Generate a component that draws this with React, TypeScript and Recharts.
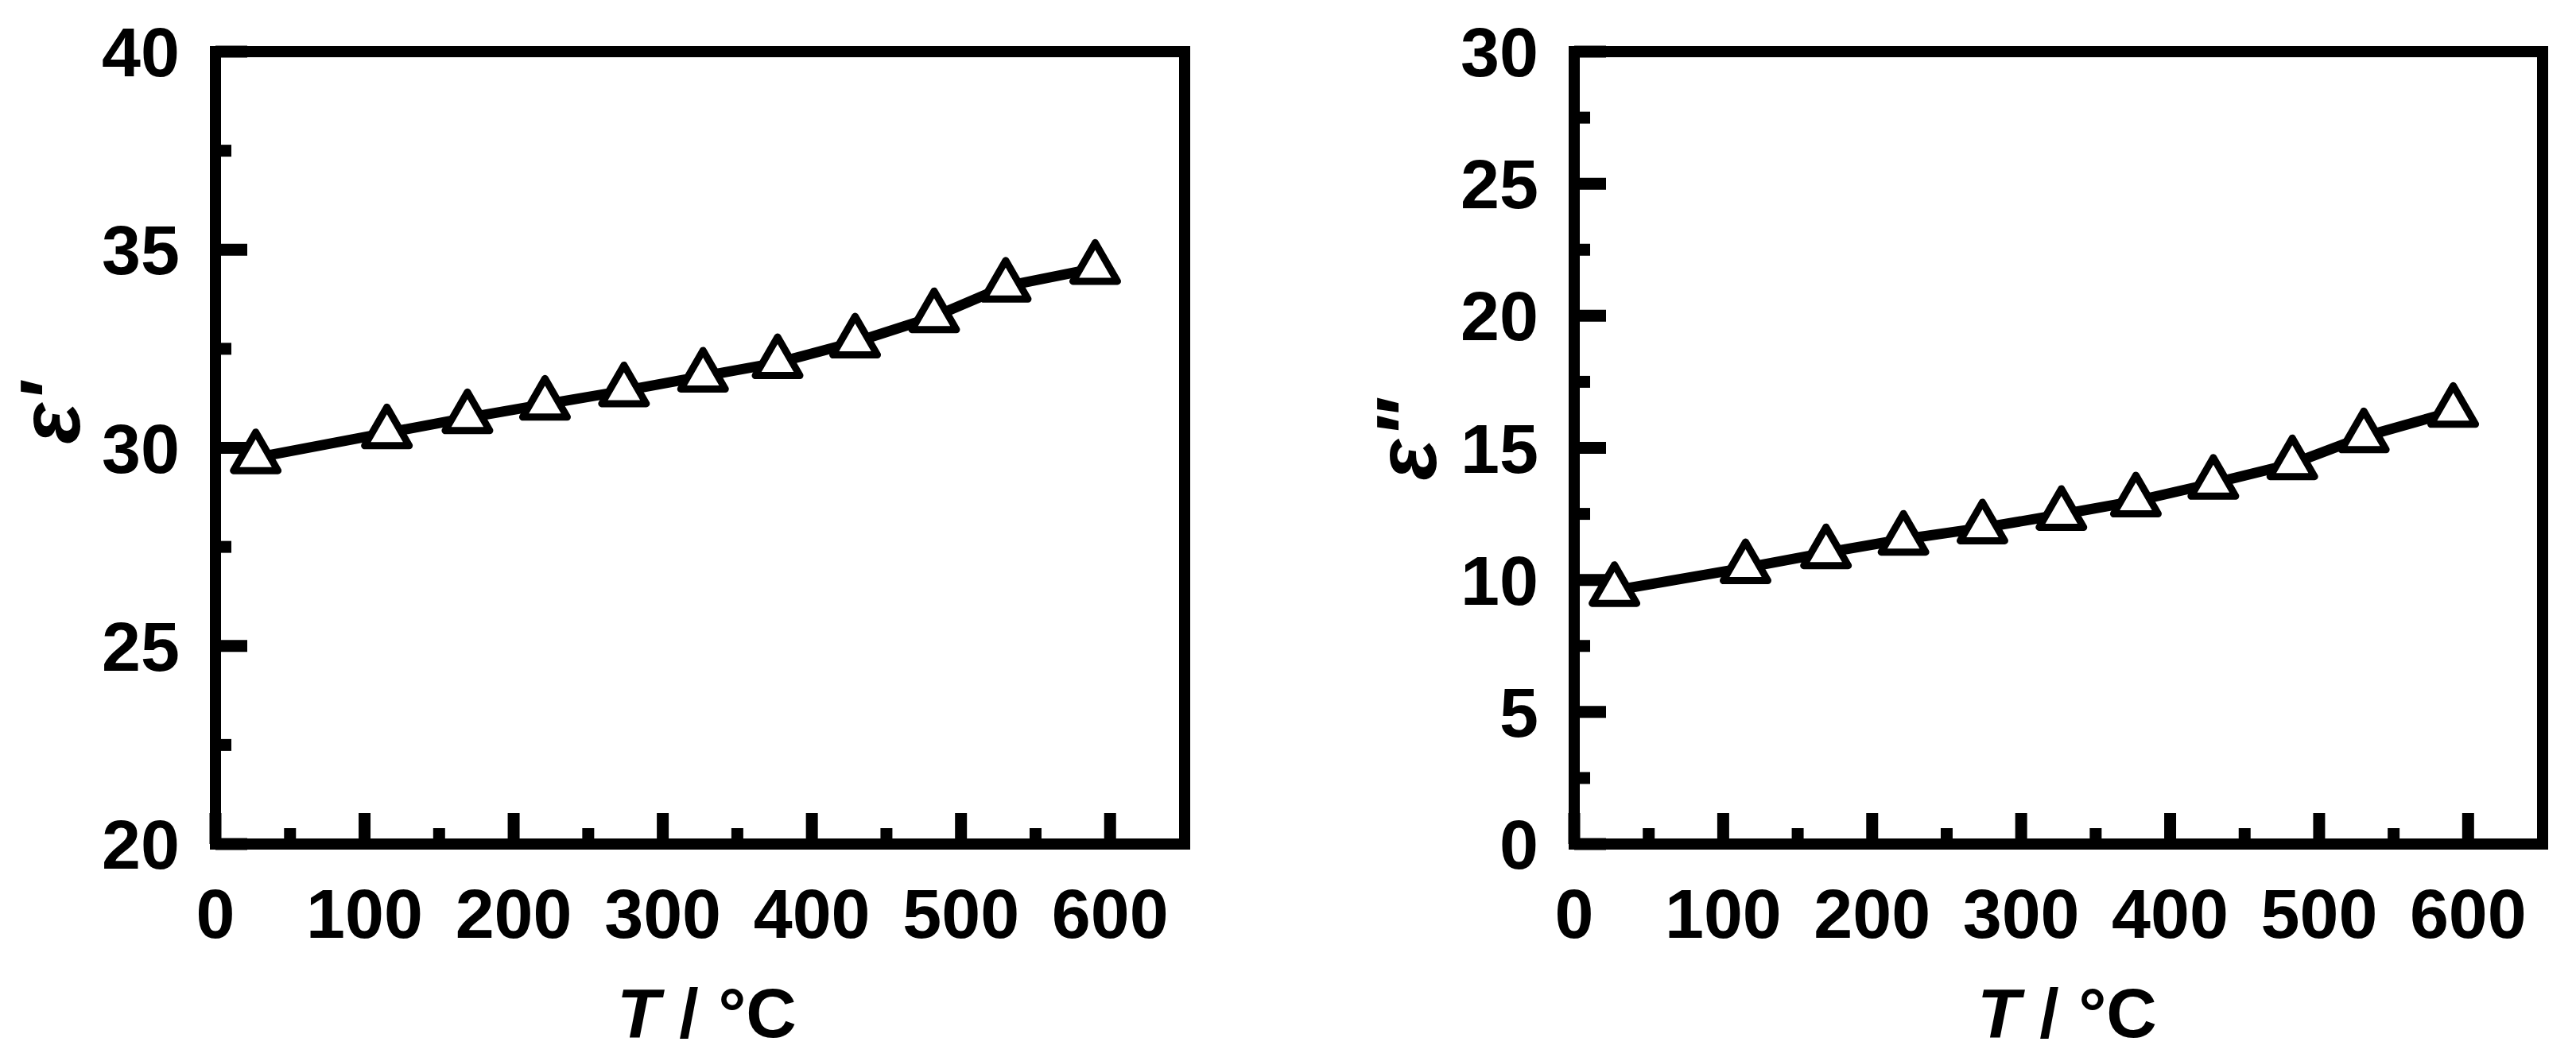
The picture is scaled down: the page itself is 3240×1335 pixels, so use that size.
import React from 'react';
import { LineChart, Line, XAxis, YAxis, ReferenceArea } from 'recharts';

// temperatures (°C) shared by both panels
const temps = [27, 115, 169, 221, 274, 327, 377, 429, 482, 530, 590];
// real part of permittivity
const epsReal = [29.75, 30.38, 30.76, 31.1, 31.44, 31.81, 32.15, 32.67, 33.31, 34.08, 34.53];
// imaginary part of permittivity
const epsImag = [9.6, 10.46, 11.03, 11.54, 11.97, 12.48, 12.99, 13.66, 14.4, 15.42, 16.38];

const xTicks = [0, 50, 100, 150, 200, 250, 300, 350, 400, 450, 500, 550, 600];
const realTicks = [20, 22.5, 25, 27.5, 30, 32.5, 35, 37.5, 40];
const imagTicks = [0, 2.5, 5, 7.5, 10, 12.5, 15, 17.5, 20, 22.5, 25, 27.5, 30];

const FONT = "'Liberation Sans', Arial, Helvetica, sans-serif";
const FS = 88;

function XTick(props: any) {
  const { x, y, payload } = props;
  const v = payload.value;
  const major = v % 100 === 0;
  return (
    <g>
      <line x1={x} x2={x} y1={y} y2={y - (major ? 39 : 20)} stroke="#000" strokeWidth={15} />
      {major ? (
        <text x={x} y={y + 118} textAnchor="middle" fontFamily={FONT} fontWeight="bold" fontSize={FS} fill="#000">
          {v}
        </text>
      ) : null}
    </g>
  );
}

function YTick(props: any) {
  const { x, y, payload } = props;
  const v = payload.value;
  const major = v % 5 === 0;
  return (
    <g>
      <line x1={x} x2={x + (major ? 40 : 20)} y1={y} y2={y} stroke="#000" strokeWidth={15} />
      {major ? (
        <text x={x - 45} y={y + 31} textAnchor="end" fontFamily={FONT} fontWeight="bold" fontSize={FS} fill="#000">
          {v}
        </text>
      ) : null}
    </g>
  );
}

// open triangle centred on its centroid
function Tri(props: any) {
  const { cx, cy, index } = props;
  if (cx == null || cy == null) return <g key={`t-${index}`} />;
  const d = `M${cx},${cy - 32.3} L${cx - 28},${cy + 16.2} L${cx + 28},${cy + 16.2} Z`;
  return <path key={`t-${index}`} d={d} fill="#fff" stroke="#000" strokeWidth={9} strokeLinejoin="round" />;
}

interface PanelProps {
  values: number[];
  yDomain: [number, number];
  yTicks: number[];
  left: number;
  width: number;
  margin: { top: number; right: number; bottom: number; left: number };
}

function Panel({ values, yDomain, yTicks, left, width, margin }: PanelProps) {
  const data = temps.map((t, i) => ({ t, v: values[i] }));
  return (
    <div style={{ position: 'absolute', left, top: 0 }}>
      <LineChart width={width} height={1335} data={data} margin={margin}>
        <XAxis
          dataKey="t"
          type="number"
          domain={[0, 650]}
          ticks={xTicks}
          interval={0}
          tickSize={0}
          tickMargin={0}
          tickLine={false}
          axisLine={false}
          tick={XTick}
          height={100}
          allowDataOverflow
        />
        <YAxis
          type="number"
          domain={yDomain}
          ticks={yTicks}
          interval={0}
          tickSize={0}
          tickMargin={0}
          tickLine={false}
          axisLine={false}
          tick={YTick}
          width={200}
          allowDataOverflow
        />
        <ReferenceArea x1={0} x2={650} y1={yDomain[0]} y2={yDomain[1]} fill="none" stroke="#000" strokeWidth={14} />
        <Line
          type="linear"
          dataKey="v"
          stroke="#000"
          strokeWidth={13}
          dot={Tri}
          activeDot={false}
          isAnimationActive={false}
        />
      </LineChart>
    </div>
  );
}

export default function App() {
  const title = { fontFamily: FONT, fontWeight: 'bold' as const, fill: '#000' };
  return (
    <div style={{ position: 'absolute', left: 0, top: 0, width: 3240, height: 1335, background: '#fff' }}>
      <Panel
        values={epsReal}
        yDomain={[20, 40]}
        yTicks={realTicks}
        left={0}
        width={1560}
        margin={{ top: 65, right: 70, bottom: 173, left: 71 }}
      />
      <Panel
        values={epsImag}
        yDomain={[0, 30]}
        yTicks={imagTicks}
        left={1700}
        width={1540}
        margin={{ top: 65, right: 42, bottom: 173, left: 80 }}
      />
      <svg width={3240} height={1335} style={{ position: 'absolute', left: 0, top: 0, pointerEvents: 'none' }}>
        <text x={889} y={1305} textAnchor="middle" fontSize={FS} {...title}>
          <tspan fontStyle="italic">T</tspan> / °C
        </text>
        <text x={2600} y={1305} textAnchor="middle" fontSize={FS} {...title}>
          <tspan fontStyle="italic">T</tspan> / °C
        </text>
        <text transform="translate(100,520) rotate(-90)" textAnchor="middle" fontStyle="italic" fontSize={108} {...title}>
          ε'
        </text>
        <text transform="translate(1806,553) rotate(-90)" textAnchor="middle" fontStyle="italic" fontSize={108} {...title}>
          ε"
        </text>
      </svg>
    </div>
  );
}
